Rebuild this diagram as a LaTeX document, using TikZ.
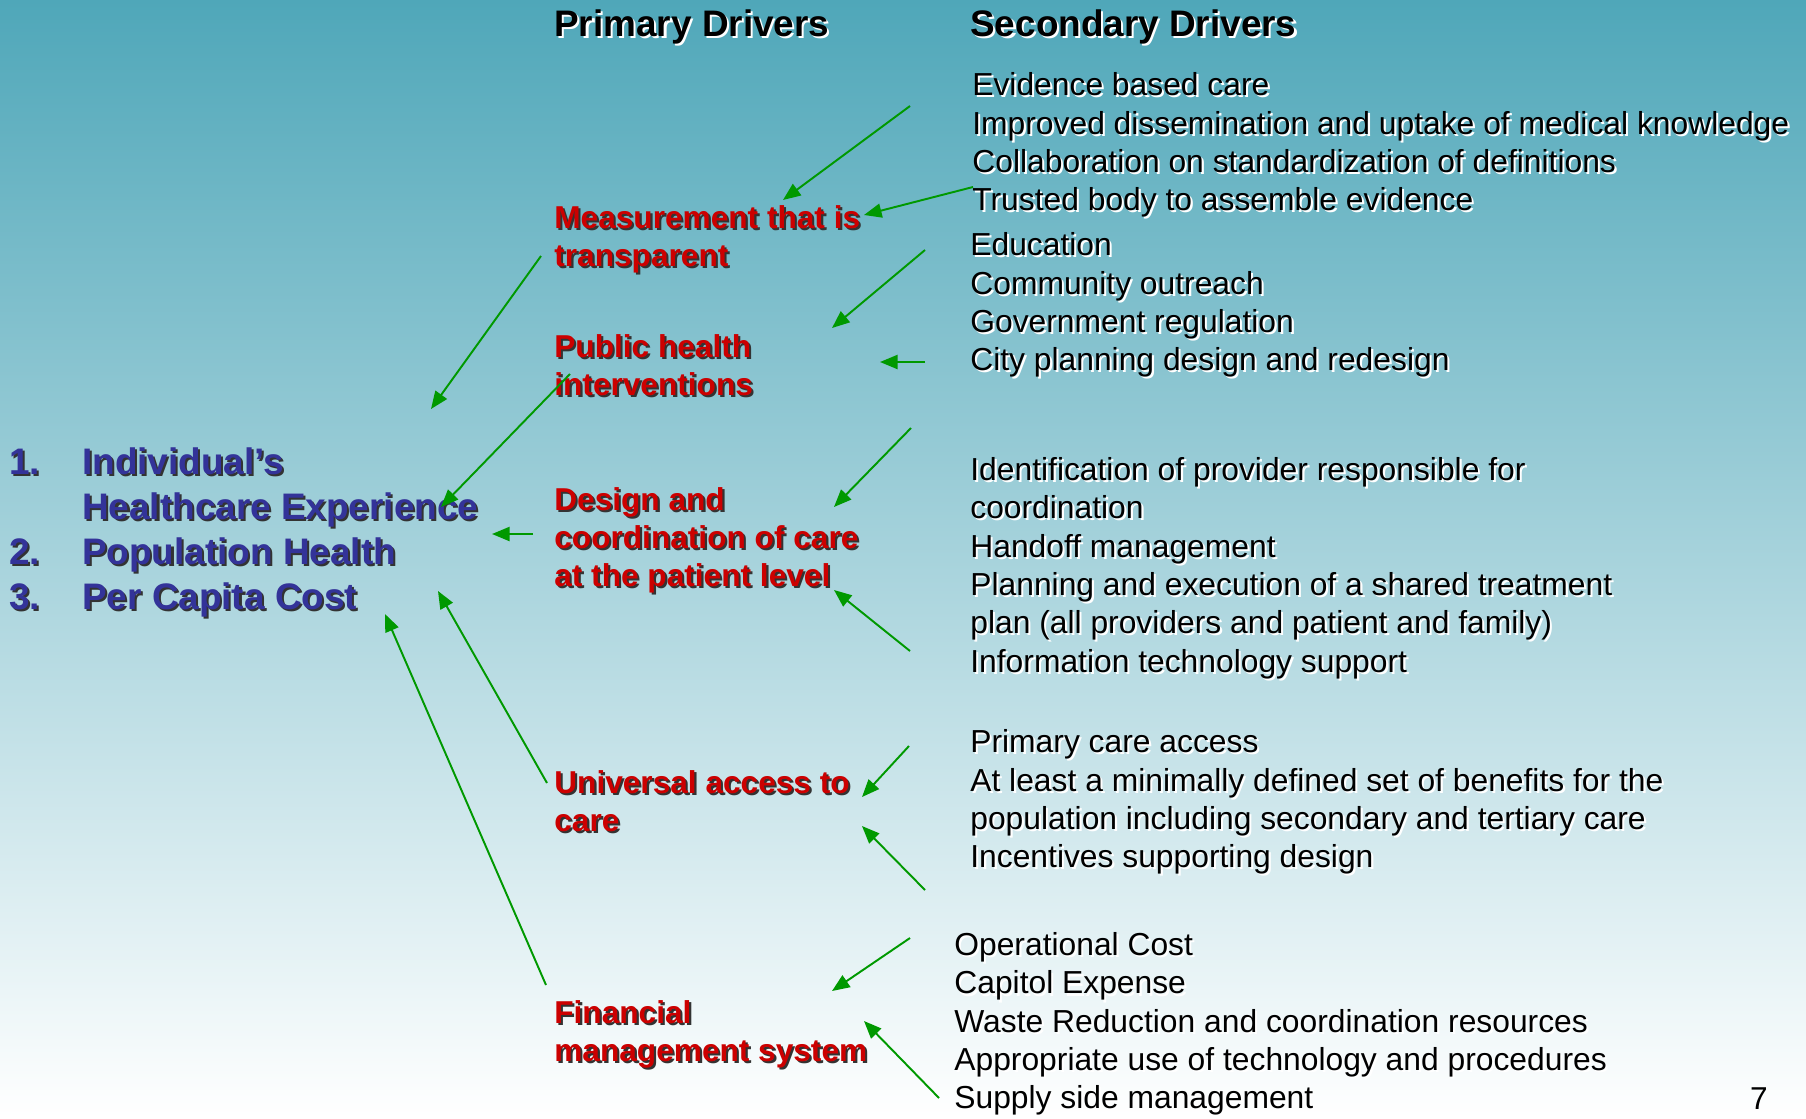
\documentclass[tikz,border=0pt]{standalone}
\usepackage{fontspec}
\setmainfont{Liberation Sans}
\usetikzlibrary{arrows.meta}

\definecolor{slidetop}{RGB}{79,167,185}
\definecolor{driverred}{RGB}{204,0,0}
\definecolor{aimblue}{RGB}{51,51,153}
\definecolor{arrowgreen}{RGB}{0,153,0}

\tikzset{
  txt/.style={inner sep=0pt, anchor=west, align=left},
  header/.style={txt, font=\fontsize{21}{25}\selectfont\bfseries},
  primary/.style={txt, text=driverred, font=\fontsize{18}{21.6}\selectfont\bfseries},
  secondary/.style={txt, font=\fontsize{18.1}{21.8}\selectfont},
  aim/.style={txt, text=aimblue, font=\fontsize{21}{25.6}\selectfont\bfseries},
  darkshade/.style={text=black!80},
  lightshade/.style={text=white},
  link/.style={draw=arrowgreen, line width=1.1pt, -{Triangle[length=10pt,width=8pt]}},
}

% text with a drop shadow: style, shadow style, name, position, text
\newcommand\dropnode[5]{%
  \node[#1, #2, xshift=1.2pt, yshift=-1.2pt] at (#4) {#5};
  \node[#1] (#3) at (#4) {#5};
}

\begin{document}
\begin{tikzpicture}[x=0.2mm, y=-0.2mm]
  \useasboundingbox (0,0) rectangle (1806,1118);
  \shade[top color=slidetop, bottom color=white] (0,0) rectangle (1806,1118);

  % column titles
  \dropnode{header}{lightshade}{prim}{554,27}{Primary Drivers}
  \dropnode{header}{lightshade}{sec}{970,27}{Secondary Drivers}

  % aims
  \dropnode{aim}{darkshade}{aims}{9,533}{\begin{tabular}{@{}p{41.5pt}@{}l@{}}1.&Individual’s\\ &Healthcare Experience\\ 2.&Population Health\\ 3.&Per Capita Cost\end{tabular}}

  % primary drivers
  \dropnode{primary}{darkshade}{pd1}{554,239}{Measurement that is\\transparent}
  \dropnode{primary}{darkshade}{pd2}{554,365}{Public health\\interventions}
  \dropnode{primary}{darkshade}{pd3}{554,540}{Design and\\coordination of care\\at the patient level}
  \dropnode{primary}{darkshade}{pd4}{554,801}{Universal access to\\care}
  \dropnode{primary}{darkshade}{pd5}{554,1034}{Financial\\management system}

  % secondary drivers
  \dropnode{secondary}{lightshade}{sd1}{972,145}{Evidence based care\\Improved dissemination and uptake of medical knowledge\\Collaboration on standardization of definitions\\Trusted body to assemble evidence}
  \dropnode{secondary}{lightshade}{sd2}{970,305}{Education\\Community outreach\\Government regulation\\City planning design and redesign}
  \dropnode{secondary}{lightshade}{sd3}{970,568}{Identification of provider responsible for\\coordination\\Handoff management\\Planning and execution of a shared treatment\\plan (all providers and patient and family)\\Information technology support}
  \dropnode{secondary}{lightshade}{sd4}{970,802}{Primary care access\\At least a minimally defined set of benefits for the\\population including secondary and tertiary care\\Incentives supporting design}
  \dropnode{secondary}{lightshade}{sd5}{954,1024}{Operational Cost\\Capitol Expense\\Waste Reduction and coordination resources\\Appropriate use of technology and procedures\\Supply side management}

  \node[txt, anchor=center, font=\fontsize{18}{20}\selectfont] (page) at (1759,1099) {7};

  % arrow ends
  \coordinate (s1) at (910,106);   \coordinate (e1) at (783,200);
  \coordinate (s2) at (973,187);   \coordinate (e2) at (864,215);
  \coordinate (s3) at (541,256);   \coordinate (e3) at (431,409);
  \coordinate (s4) at (925,250);   \coordinate (e4) at (832,328);
  \coordinate (s5) at (925,362);   \coordinate (e5) at (880,362);
  \coordinate (s6) at (570,374);   \coordinate (e6) at (441,507);
  \coordinate (s7) at (533,534);   \coordinate (e7) at (492,534);
  \coordinate (s8) at (911,428);   \coordinate (e8) at (834,507);
  \coordinate (s9) at (910,651);   \coordinate (e9) at (834,590);
  \coordinate (s10) at (547,783);  \coordinate (e10) at (438,591);
  \coordinate (s11) at (909,746);  \coordinate (e11) at (862,797);
  \coordinate (s12) at (925,890);  \coordinate (e12) at (862,826);
  \coordinate (s13) at (910,938);  \coordinate (e13) at (832,991);
  \coordinate (s14) at (546,985);  \coordinate (e14) at (385,614);
  \coordinate (s15) at (939,1098); \coordinate (e15) at (864,1021);

  \foreach \i in {1,...,15}
    \draw[link] (s\i) -- (e\i);
\end{tikzpicture}
\end{document}
